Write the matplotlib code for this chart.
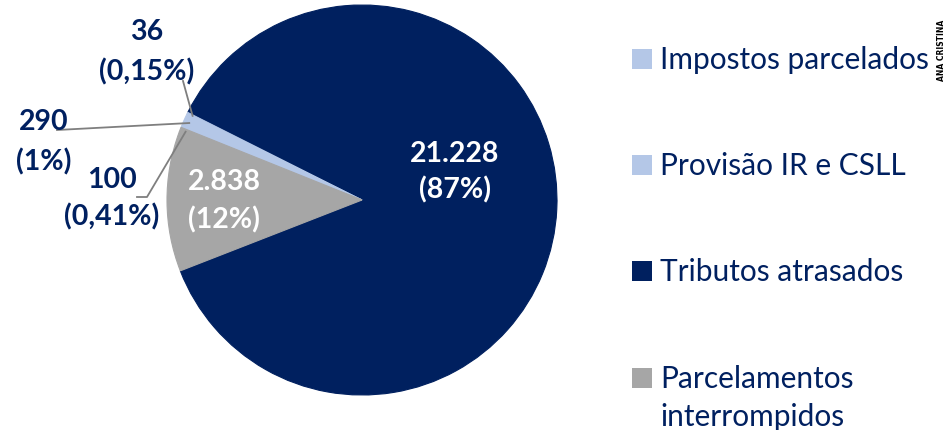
import numpy as np
import matplotlib.pyplot as plt

# data
categories = ["Tributos atrasados", "Impostos parcelados", "Provisão IR e CSLL",
              "Outros", "Parcelamentos interrompidos"]
values = [21228, 36, 290, 100, 2838]
value_labels = ["21.228", "36", "290", "100", "2.838"]
pct_labels = ["(87%)", "(0,15%)", "(1%)", "(0,41%)", "(12%)"]
colors = ["#00205F", "#B4C7E7", "#B4C7E7", "#A6A6A6", "#A6A6A6"]
legend_order = ["Impostos parcelados", "Provisão IR e CSLL",
                "Tributos atrasados", "Parcelamentos interrompidos"]

NAVY = "#002060"
FONT = "Lato"
W, H = 949, 431

fig = plt.figure(figsize=(W / 100, H / 100), dpi=100)
ax = fig.add_axes([0, 0, 1, 1])

cx, cy, r = 362, H - 201, 195
wedges, _ = ax.pie(values, colors=colors, startangle=201.3, counterclock=True,
                   center=(cx, cy), radius=r, frame=True,
                   wedgeprops=dict(linewidth=0.8))
for w in wedges:
    w.set_edgecolor(w.get_facecolor())
ax.set_xlim(0, W)
ax.set_ylim(0, H)
ax.set_aspect("equal")
ax.axis("off")

# labels inside the two big slices (pixel positions from top)
inside = {0: (455, 154, 190), 4: (224, 182, 220)}
for i, (x, y1, y2) in inside.items():
    ax.text(x, H - y1, value_labels[i], color="white", fontsize=20.5,
            fontweight="bold", family=FONT, ha="center", va="center")
    ax.text(x, H - y2, pct_labels[i], color="white", fontsize=20.5,
            fontweight="bold", family=FONT, ha="center", va="center")

# outside labels for small slices
outside = {1: (147, 32, 72), 2: (44, 122, 162), 3: (112, 180, 217)}
for i, (x, y1, y2) in outside.items():
    ax.text(x, H - y1, value_labels[i], color=NAVY, fontsize=20.5,
            fontweight="bold", family=FONT, ha="center", va="center")
    ax.text(x, H - y2, pct_labels[i], color=NAVY, fontsize=20.5,
            fontweight="bold", family=FONT, ha="center", va="center")


def edge_point(w, frac=0.97):
    ang = np.deg2rad((w.theta1 + w.theta2) / 2)
    return cx + r * frac * np.cos(ang), cy + r * frac * np.sin(ang)


lc = "#7F7F7F"
px, py = edge_point(wedges[1])
ax.plot([183, px], [H - 82, py], color=lc, lw=1.3)
px, py = edge_point(wedges[2])
ax.plot([57, px], [H - 131, py], color=lc, lw=1.3)
px, py = edge_point(wedges[3])
ax.plot([137, 147, px], [H - 198, H - 198, py], color=lc, lw=1.3)

# legend
name_to_wedge = dict(zip(categories, wedges))
leg_y = [60, 166, 272, 379]
for name, y in zip(legend_order, leg_y):
    w = name_to_wedge[name]
    ax.add_patch(plt.Rectangle((632, H - y - 10), 20, 20,
                               color=w.get_facecolor(), lw=0))
    if name == "Parcelamentos interrompidos":
        ax.text(660, H - y, "Parcelamentos", color=NAVY, fontsize=21.5,
                family=FONT, ha="left", va="center")
        ax.text(660, H - y - 38, "interrompidos", color=NAVY, fontsize=21.5,
                family=FONT, ha="left", va="center")
    else:
        ax.text(660, H - y, name, color=NAVY, fontsize=21.5,
                family=FONT, ha="left", va="center")

ax.text(942, H - 50, "ANA CRISTINA", color="black", fontsize=5.5,
        fontweight="bold", rotation=90, ha="center", va="center")

fig.savefig("out.png", dpi=100)
